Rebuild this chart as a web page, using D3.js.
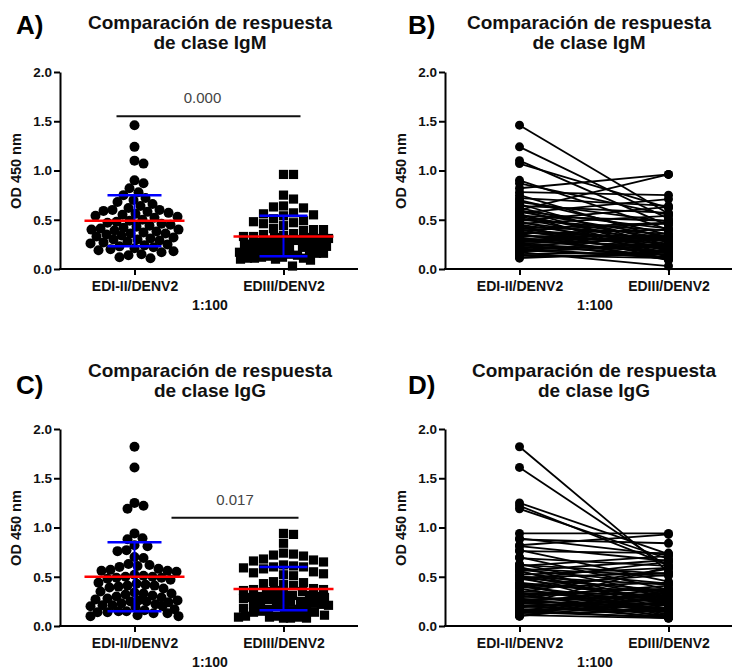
<!DOCTYPE html>
<html>
<head>
<meta charset="utf-8">
<script src="https://cdn.jsdelivr.net/npm/d3@7"></script>
<style>
  body { margin: 0; background: #fff; }
  svg { display: block; font-family: Arial, "Liberation Sans", sans-serif; }
</style>
</head>
<body>
<script>
// categories and ticks
const categories = ["EDI-II/DENV2", "EDIII/DENV2"];
const yTicks = [0, 0.5, 1.0, 1.5, 2.0];
const dilution = "1:100";

// IgM, paired by subject (EDI-II/DENV2 -> EDIII/DENV2)
const igmEdi2 = [1.46, 1.24, 1.10, 1.07, 0.90, 0.87, 0.82, 0.78, 0.75, 0.72,
  0.70, 0.68, 0.66, 0.64, 0.62, 0.60, 0.60, 0.59, 0.58, 0.57,
  0.56, 0.55, 0.54, 0.53, 0.52, 0.50, 0.49, 0.48, 0.47, 0.46,
  0.45, 0.44, 0.43, 0.42, 0.41, 0.40, 0.40, 0.39, 0.38, 0.37,
  0.36, 0.36, 0.35, 0.34, 0.33, 0.32, 0.31, 0.30, 0.30, 0.29,
  0.28, 0.27, 0.26, 0.25, 0.24, 0.23, 0.22, 0.21, 0.20, 0.19,
  0.18, 0.17, 0.15, 0.14, 0.12, 0.11];
const igmEdi3 = [0.56, 0.51, 0.44, 0.62, 0.40, 0.55, 0.96, 0.75, 0.30, 0.64,
  0.35, 0.48, 0.22, 0.57, 0.27, 0.96, 0.18, 0.41, 0.33, 0.71,
  0.12, 0.25, 0.49, 0.31, 0.20, 0.39, 0.63, 0.16, 0.29, 0.54,
  0.24, 0.10, 0.36, 0.19, 0.47, 0.28, 0.13, 0.46, 0.23, 0.32,
  0.09, 0.40, 0.17, 0.26, 0.34, 0.11, 0.21, 0.32, 0.16, 0.31,
  0.24, 0.10, 0.30, 0.18, 0.14, 0.33, 0.22, 0.11, 0.25, 0.12,
  0.23, 0.03, 0.17, 0.11, 0.15, 0.17];

// IgG, paired by subject
const iggEdi2 = [1.82, 1.61, 1.25, 1.22, 1.19, 0.94, 0.89, 0.88, 0.82, 0.81,
  0.77, 0.76, 0.70, 0.69, 0.63, 0.62, 0.61, 0.60, 0.58, 0.57,
  0.56, 0.56, 0.55, 0.52, 0.51, 0.50, 0.50, 0.49, 0.49, 0.48,
  0.47, 0.44, 0.43, 0.42, 0.41, 0.41, 0.40, 0.39, 0.38, 0.35,
  0.34, 0.33, 0.33, 0.32, 0.31, 0.30, 0.29, 0.28, 0.27, 0.26,
  0.26, 0.25, 0.25, 0.24, 0.23, 0.22, 0.21, 0.21, 0.20, 0.20,
  0.19, 0.17, 0.16, 0.15, 0.15, 0.14, 0.14, 0.13, 0.13, 0.11,
  0.10, 0.10];
const iggEdi3 = [0.55, 0.60, 0.73, 0.62, 0.68, 0.94, 0.72, 0.84, 0.93, 0.66,
  0.45, 0.74, 0.37, 0.61, 0.31, 0.53, 0.71, 0.22, 0.51, 0.43,
  0.67, 0.17, 0.30, 0.59, 0.25, 0.42, 0.11, 0.54, 0.36, 0.24,
  0.65, 0.29, 0.10, 0.35, 0.52, 0.16, 0.23, 0.44, 0.15, 0.31,
  0.58, 0.09, 0.28, 0.38, 0.14, 0.21, 0.41, 0.10, 0.30, 0.18,
  0.29, 0.08, 0.37, 0.23, 0.17, 0.60, 0.22, 0.09, 0.28, 0.14,
  0.27, 0.16, 0.08, 0.36, 0.21, 0.09, 0.24, 0.15, 0.34, 0.08,
  0.25, 0.35];

// summary lines (mean, mean-SD, mean+SD)
const igmMean = [0.49, 0.33];
const igmSd = [[0.23, 0.75], [0.13, 0.54]];
const iggMean = [0.50, 0.375];
const iggSd = [[0.15, 0.85], [0.16, 0.60]];

// significance labels and bar heights
const igmP = { label: "0.000", at: 1.55 };
const iggP = { label: "0.017", at: 1.10 };

const series = {
  IgM: { a: igmEdi2, b: igmEdi3, mean: igmMean, sd: igmSd, p: igmP, barOff: [-18, 17] },
  IgG: { a: iggEdi2, b: iggEdi3, mean: iggMean, sd: iggSd, p: iggP, barOff: [37, 15] }
};

const panels = [
  { letter: "A)", iso: "IgM", kind: "scatter", left: 60, right: 358, bottom: 269, titleX: 210, titleY: 29, letterX: 16, letterY: 34 },
  { letter: "B)", iso: "IgM", kind: "paired", left: 445, right: 732, bottom: 269, titleX: 589, titleY: 29, letterX: 408, letterY: 34 },
  { letter: "C)", iso: "IgG", kind: "scatter", left: 60, right: 358, bottom: 626, titleX: 210, titleY: 377, letterX: 16, letterY: 394 },
  { letter: "D)", iso: "IgG", kind: "paired", left: 445, right: 732, bottom: 626, titleX: 594, titleY: 377, letterX: 408, letterY: 394 }
];

const svg = d3.select("body").append("svg")
  .attr("width", 732)
  .attr("height", 671);

// greedy beeswarm kept inside +/- maxOff; if crowded, take the least-overlapping spot
function swarm(values, y, cx, gap, square, maxOff) {
  const nodes = values.map(v => ({ v, y: y(v) })).sort((p, q) => q.v - p.v);
  const placed = [];
  const clearance = (xx, yy) => d3.min(placed, q => square
    ? Math.max(Math.abs(q.x - xx), Math.abs(q.y - yy))
    : Math.hypot(q.x - xx, q.y - yy)) ?? Infinity;
  nodes.forEach(n => {
    let best = null, bestC = -1;
    for (let k = 0; k <= maxOff * 2; k++) {
      const off = k === 0 ? 0 : (k % 2 ? 1 : -1) * Math.ceil(k / 2);
      const c = clearance(cx + off, n.y);
      if (c >= gap) { best = cx + off; break; }
      if (c > bestC) { bestC = c; best = cx + off; }
    }
    n.x = best;
    placed.push(n);
  });
  return placed;
}

function drawPanel(p) {
  const s = series[p.iso];
  const g = svg.append("g");

  const y = d3.scaleLinear().domain([0, 2]).range([p.bottom, p.bottom - 197]);
  const x = d3.scalePoint().domain(categories).range([p.left, p.left + 298]).padding(0.5);

  // panel letter + title
  g.append("text")
    .attr("x", p.letterX).attr("y", p.letterY)
    .style("font-size", "26px").style("font-weight", "bold")
    .text(p.letter);

  const title = g.append("text")
    .attr("text-anchor", "middle")
    .style("font-size", "19px").style("font-weight", "bold")
    .attr("fill", "#111");
  title.append("tspan").attr("x", p.titleX).attr("y", p.titleY).text("Comparación de respuesta");
  title.append("tspan").attr("x", p.titleX).attr("y", p.titleY + 20).text(`de clase ${p.iso}`);

  // y axis
  const yAxis = g.append("g")
    .attr("transform", `translate(${p.left},0)`)
    .call(d3.axisLeft(y).tickValues(yTicks).tickFormat(d3.format(".1f")).tickSize(6).tickSizeOuter(0).tickPadding(2));
  yAxis.select(".domain").attr("stroke-width", 2);
  yAxis.selectAll(".tick line").attr("stroke-width", 2);
  yAxis.selectAll(".tick text")
    .attr("fill", "#111")
    .style("font-size", "13.5px").style("font-weight", "bold")
    .style("font-family", "Arial, 'Liberation Sans', sans-serif");

  g.append("text")
    .attr("transform", `translate(${p.left - 39},${p.bottom - 98}) rotate(-90)`)
    .attr("text-anchor", "middle")
    .style("font-size", "14.5px").style("font-weight", "bold")
    .attr("fill", "#111")
    .text("OD 450 nm");

  // x axis
  const xAxis = g.append("g")
    .attr("transform", `translate(0,${p.bottom})`)
    .call(d3.axisBottom(x).tickSize(6).tickPadding(6));
  xAxis.select(".domain").remove();
  xAxis.selectAll(".tick line").attr("stroke-width", 2);
  xAxis.selectAll(".tick text")
    .attr("fill", "#111")
    .style("font-size", "14px").style("font-weight", "bold")
    .style("font-family", "Arial, 'Liberation Sans', sans-serif");
  g.append("line")
    .attr("x1", p.left - 1).attr("x2", p.right)
    .attr("y1", p.bottom).attr("y2", p.bottom)
    .attr("stroke", "#000").attr("stroke-width", 2);

  g.append("text")
    .attr("x", p.left + 150).attr("y", p.bottom + 41)
    .attr("text-anchor", "middle")
    .style("font-size", "14px").style("font-weight", "bold")
    .attr("fill", "#111")
    .text(dilution);

  const cx0 = x(categories[0]), cx1 = x(categories[1]);

  if (p.kind === "scatter") {
    const circles = swarm(s.a, y, cx0, 9, false, 44);
    const squares = swarm(s.b, y, cx1, 9.5, true, 45);

    g.append("g").selectAll("circle")
      .data(circles).join("circle")
      .attr("cx", d => d.x).attr("cy", d => d.y).attr("r", 5)
      .attr("fill", "#000");

    g.append("g").selectAll("rect")
      .data(squares).join("rect")
      .attr("x", d => d.x - 4.6).attr("y", d => d.y - 4.6)
      .attr("width", 9.2).attr("height", 9.2)
      .attr("fill", "#000");

    // mean +/- SD (blue), mean (red)
    [cx0, cx1].forEach((cx, i) => {
      const [lo, hi] = s.sd[i];
      const cap = i === 0 ? 27 : 24;
      g.append("line")
        .attr("x1", cx).attr("x2", cx).attr("y1", y(lo)).attr("y2", y(hi))
        .attr("stroke", "#0000ff").attr("stroke-width", 2);
      [lo, hi].forEach(v => g.append("line")
        .attr("x1", cx - cap).attr("x2", cx + cap).attr("y1", y(v)).attr("y2", y(v))
        .attr("stroke", "#0000ff").attr("stroke-width", 2.5));
      g.append("line")
        .attr("x1", cx - 50).attr("x2", cx + 50)
        .attr("y1", y(s.mean[i])).attr("y2", y(s.mean[i]))
        .attr("stroke", "#ff0000").attr("stroke-width", 2.5);
    });

    // significance bar
    g.append("line")
      .attr("x1", cx0 + s.barOff[0]).attr("x2", cx1 + s.barOff[1])
      .attr("y1", y(s.p.at)).attr("y2", y(s.p.at))
      .attr("stroke", "#111").attr("stroke-width", 2);
    g.append("text")
      .attr("x", (cx0 + s.barOff[0] + cx1 + s.barOff[1]) / 2 - (p.iso === "IgM" ? 6 : 0))
      .attr("y", y(s.p.at) - 13)
      .attr("text-anchor", "middle")
      .style("font-size", "15px")
      .attr("fill", "#444")
      .text(s.p.label);
  } else {
    const pairs = s.a.map((v, i) => [v, s.b[i]]);
    g.append("g").selectAll("line")
      .data(pairs).join("line")
      .attr("x1", cx0).attr("x2", cx1)
      .attr("y1", d => y(d[0])).attr("y2", d => y(d[1]))
      .attr("stroke", "#000").attr("stroke-width", 1.8);
    g.append("g").selectAll("circle")
      .data(pairs.flatMap(d => [[cx0, d[0]], [cx1, d[1]]])).join("circle")
      .attr("cx", d => d[0]).attr("cy", d => y(d[1])).attr("r", 4.5)
      .attr("fill", "#000");
  }
}

panels.forEach(drawPanel);
</script>
</body>
</html>
